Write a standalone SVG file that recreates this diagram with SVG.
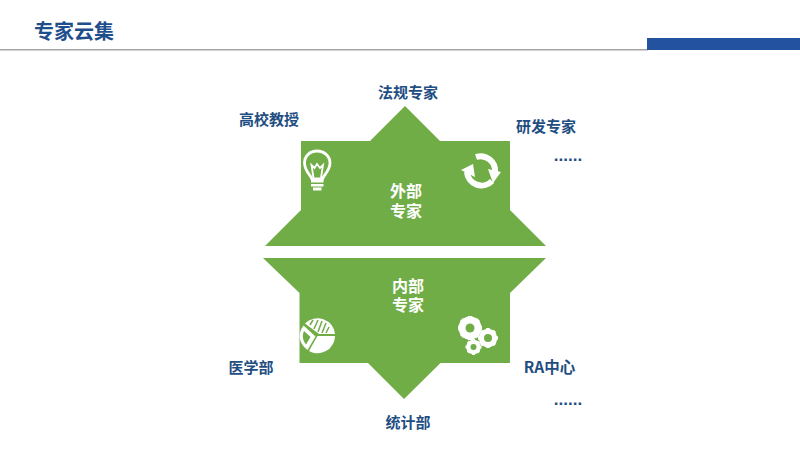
<svg xmlns="http://www.w3.org/2000/svg" width="800" height="450" viewBox="0 0 800 450">
<style>
text{font-family:"Noto Sans CJK SC","Liberation Sans",sans-serif;font-weight:700}
.l{fill:#1f4e82;font-size:15px;text-anchor:middle}
.d{fill:#1f4e82;font-size:17px;text-anchor:middle;font-family:"Liberation Sans",sans-serif}
.w{fill:#fff;font-size:16px;text-anchor:middle}
.g{fill:#70ad47}
.f{fill:#fff}
</style>
<rect width="800" height="450" fill="#fff"/>
<g id="header">
<rect x="0" y="49" width="648" height="1.500" fill="#a6a6a6"/>
<rect x="647" y="38" width="153" height="12" fill="#2353a0"/>
<text x="74" y="39" text-anchor="middle" font-size="20" fill="#1f4e8c">专家云集</text>
</g>
<g id="outer">
<polygon class="g" points="405,106 370,141 301,141 301,210 265,246 546,246 510,210 510,141 440,141"/>
<text class="w"><tspan x="406" y="197">外部</tspan><tspan x="406" y="217">专家</tspan></text>
</g>
<g id="inner">
<polygon class="g" points="263,258 299.500,293 299.500,363 368,363 404,399 440.500,363 510,363 510,293 546,258"/>
<text class="w"><tspan x="408" y="292">内部</tspan><tspan x="408" y="311">专家</tspan></text>
</g>
<g id="icon-bulb">
<path fill="none" stroke="#fff" stroke-width="2.800" d="M311 177C308 173 304.500 169 304.500 163C304.500 156 310 151 317 151C324 151 330 156 330 163C330 169 326 173 323.500 177L322.500 179H312Z"/>
<path fill="none" stroke="#fff" stroke-width="1.800" d="M313.500 178L311.500 165L314.500 168L317 164L320 168L323 165L321 178"/>
<rect class="f" x="311" y="180" width="12.500" height="2.500"/>
<rect class="f" x="311" y="184" width="12.500" height="2.500"/>
<rect class="f" x="313" y="187.500" width="8.500" height="3"/>
</g>
<g id="icon-cycle">
<path fill="none" stroke="#fff" stroke-width="6" d="M467 172A14.500 14.500 0 0 0 492 181"/>
<path fill="none" stroke="#fff" stroke-width="6" d="M476 157A14.500 14.500 0 0 1 495 172"/>
<polygon class="f" points="461,170 473,164 475,177"/>
<polygon class="f" points="488,169 501,172 493,183"/>
</g>
<g id="icon-pie">
<path class="f" d="M317.500 336H335A17.500 17.500 0 0 1 309 351Z"/>
<path class="f" d="M305 323.500A17.500 17.500 0 0 1 335 334H319Z"/>
<path stroke="#70ad47" stroke-width="1.500" fill="none" d="M310 325L313 320M314 329L318 320M318 332L322 321M322 333L326 323M326 333L329 327"/>
<path class="f" d="M303.500 325.500L315.500 336.500L307.500 350C299 344 297 334 303.500 325.500Z"/>
<path class="g" d="M304 331L310.500 337L306 344.500C302.500 340 302 335.500 304 331Z"/>
</g>
<g id="icon-gears">
<circle cx="470" cy="328" r="8" fill="none" stroke="#fff" stroke-width="7"/>
<path stroke="#fff" stroke-width="4.500" d="M470 316V340M458 328H482M461.500 319.500L478.500 336.500M478.500 319.500L461.500 336.500"/>
<circle cx="470" cy="328" r="4.500" class="g"/>
<circle cx="488" cy="338" r="6.500" fill="none" stroke="#fff" stroke-width="5.500"/>
<path stroke="#fff" stroke-width="3.500" d="M488 328V348M478 338H498M481 331L495 345M495 331L481 345"/>
<circle cx="488" cy="338" r="4" class="g"/>
<circle cx="473.500" cy="347" r="5" fill="none" stroke="#fff" stroke-width="4.500"/>
<path stroke="#fff" stroke-width="3" d="M473.500 339V355M465.500 347H481.500M468 341.500L479 352.500M479 341.500L468 352.500"/>
<circle cx="473.500" cy="347" r="3" class="g"/>
</g>
<g id="labels">
<text class="l" x="408" y="98">法规专家</text>
<text class="l" x="269" y="125">高校教授</text>
<text class="l" x="546" y="132">研发专家</text>
<text class="d" x="568" y="161">......</text>
<text class="l" x="251" y="373">医学部</text>
<text class="l" x="549.500" y="373" style="font-size:15.500px">RA中心</text>
<text class="d" x="568" y="405">......</text>
<text class="l" x="408" y="428">统计部</text>
</g>
</svg>
